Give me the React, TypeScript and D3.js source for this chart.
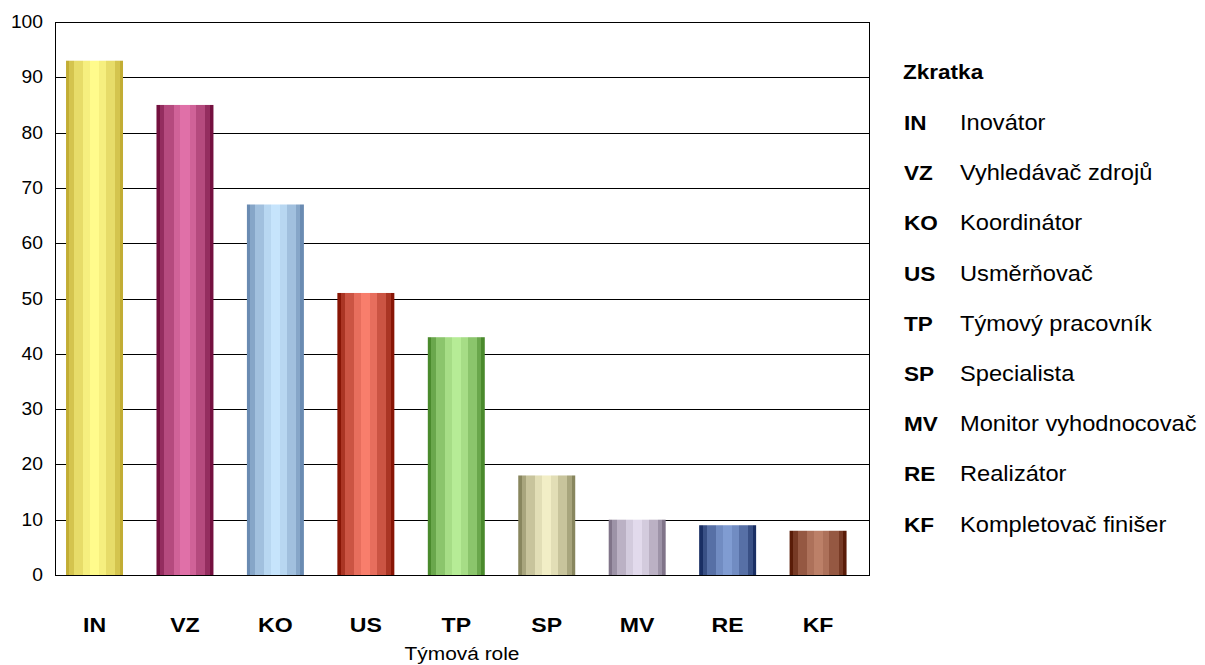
import React from "react";
import * as d3 from "d3";

const categories = ["IN", "VZ", "KO", "US", "TP", "SP", "MV", "RE", "KF"];
const values = [93, 85, 67, 51, 43, 18, 10, 9, 8];
const legendNames = [
  "Inovátor",
  "Vyhledávač zdrojů",
  "Koordinátor",
  "Usměrňovač",
  "Týmový pracovník",
  "Specialista",
  "Monitor vyhodnocovač",
  "Realizátor",
  "Kompletovač finišer",
];
const yTicks = [0, 10, 20, 30, 40, 50, 60, 70, 80, 90, 100];

// [dark, light] for each bar
const barColors: [string, string][] = [
  ["#c2ad34", "#fffb8c"],
  ["#74103f", "#e070a8"],
  ["#6a8bb2", "#c6e4fc"],
  ["#881505", "#f87e6c"],
  ["#4a8a2c", "#b6ec96"],
  ["#88865e", "#f2eec6"],
  ["#807489", "#e2daec"],
  ["#1a2f64", "#809cd2"],
  ["#5a1c08", "#bc8068"],
];

const W = 1205;
const H = 665;
const plot = { left: 55, right: 869, top: 22, bottom: 575 };
const SX = 1.1;
const FONT = "'Liberation Sans', Arial, sans-serif";

const stripeStops = [
  [0, 0.06, 0],
  [0.06, 0.14, 0.3],
  [0.14, 0.3, 0.6],
  [0.3, 0.42, 0.85],
  [0.42, 0.58, 1],
  [0.58, 0.7, 0.85],
  [0.7, 0.86, 0.6],
  [0.86, 0.94, 0.3],
  [0.94, 1, 0],
];

export default function App() {
  const x = d3
    .scaleBand<string>()
    .domain(categories)
    .range([plot.left - 5.7, plot.right - 5.7])
    .paddingInner(0.37)
    .paddingOuter(0.185);
  const y = d3.scaleLinear().domain([0, 100]).range([plot.bottom, plot.top]);

  const sText = (tx: number, ty: number) => `translate(${tx},${ty}) scale(${SX},1)`;

  return (
    <svg
      width={W}
      height={H}
      style={{ position: "absolute", left: 0, top: 0, background: "#fff" }}
      fontFamily={FONT}
    >
      <defs>
        {barColors.map(([dark, light], i) => {
          const interp = d3.interpolateRgb(dark, light);
          return (
            <linearGradient key={i} id={`bar${i}`} x1="0" x2="1" y1="0" y2="0">
              {stripeStops.flatMap(([a, b, t], j) => [
                <stop key={`${j}a`} offset={a} stopColor={interp(t)} />,
                <stop key={`${j}b`} offset={b} stopColor={interp(t)} />,
              ])}
            </linearGradient>
          );
        })}
      </defs>
      <rect x={0} y={0} width={W} height={H} fill="#fff" />

      {/* gridlines */}
      {yTicks.map((t) => (
        <line
          key={t}
          x1={plot.left}
          x2={plot.right}
          y1={Math.round(y(t)) + 0.5}
          y2={Math.round(y(t)) + 0.5}
          stroke="#000"
          strokeWidth={1}
        />
      ))}

      {/* bars */}
      {categories.map((c, i) => (
        <rect
          key={c}
          x={x(c)!}
          y={y(values[i])}
          width={x.bandwidth()}
          height={y(0) - y(values[i])}
          fill={`url(#bar${i})`}
        />
      ))}

      {/* frame */}
      <rect
        x={plot.left + 0.5}
        y={plot.top + 0.5}
        width={plot.right - plot.left}
        height={plot.bottom - plot.top}
        fill="none"
        stroke="#000"
        strokeWidth={1}
      />

      {/* y tick labels */}
      {yTicks.map((t) => (
        <text
          key={t}
          transform={sText(43, y(t) + 6)}
          textAnchor="end"
          fontSize={17.5}
          fill="#000"
        >
          {t}
        </text>
      ))}

      {/* x category labels */}
      {categories.map((c) => (
        <text
          key={c}
          transform={sText(x(c)! + x.bandwidth() / 2, 632)}
          textAnchor="middle"
          fontSize={21}
          fontWeight="bold"
          fill="#000"
        >
          {c}
        </text>
      ))}

      <text transform={sText(462, 660)} textAnchor="middle" fontSize={19} fill="#000">
        Týmová role
      </text>

      {/* legend */}
      <text transform={sText(903, 79)} fontSize={20.5} fontWeight="bold" fill="#000">
        Zkratka
      </text>
      {categories.map((c, i) => (
        <g key={c}>
          <text transform={sText(904, 130 + i * 50.2)} fontSize={20.5} fontWeight="bold" fill="#000">
            {c}
          </text>
          <text transform={sText(960, 130 + i * 50.2)} fontSize={21.5} fill="#000">
            {legendNames[i]}
          </text>
        </g>
      ))}
    </svg>
  );
}
